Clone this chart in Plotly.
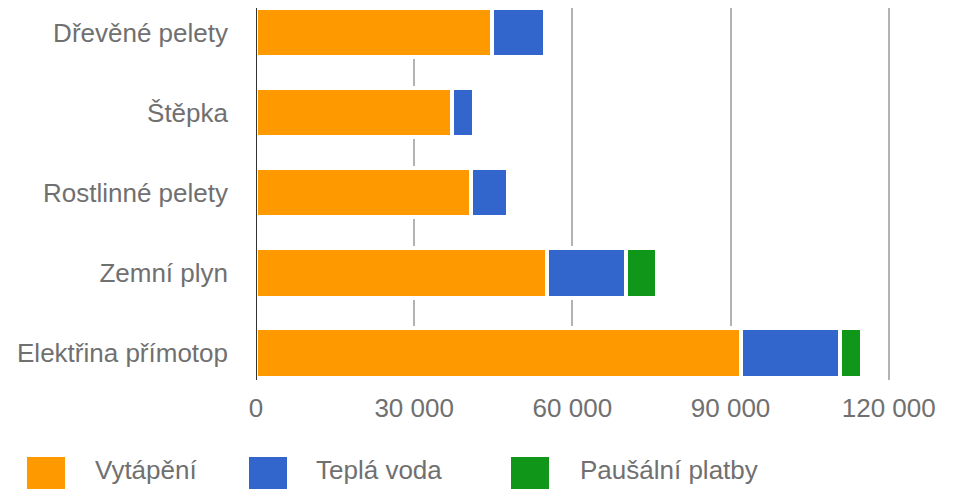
import plotly.graph_objects as go

categories = ["Dřevěné pelety", "Štěpka", "Rostlinné pelety", "Zemní plyn", "Elektřina přímotop"]
heating = [44670, 37080, 40690, 55100, 92000]
hot_water = [10050, 4170, 7010, 15000, 18680]
flat_fees = [0, 0, 0, 5880, 4170]
series_names = ["Vytápění", "Teplá voda", "Paušální platby"]
series_colors = ["#ff9900", "#3366cc", "#109618"]
x_ticks = [0, 30000, 60000, 90000, 120000]
x_tick_labels = ["0", "30 000", "60 000", "90 000", "120 000"]

OFF = 8  # page body margin
W, H = 954 - OFF, 489 - OFF
XMAX = 121000
SCALE = (888.7 - 256) / 120000
# plot area in page pixels
PL, PT, PB = 256, 8, 380
PR = PL + XMAX * SCALE
L, R, T, B = PL - OFF, PR - OFF, PT - OFF, PB - OFF
FONT = "Liberation Sans, Arial, sans-serif"
FS = 26
TXT = "#707070"

fig = go.Figure()
for name, vals, col in zip(series_names, [heating, hot_water, flat_fees], series_colors):
    fig.add_trace(go.Bar(
        y=categories, x=vals, orientation="h", name=name,
        marker=dict(color=col, line=dict(color="white", width=4.5)),
        width=0.618, showlegend=False,
    ))

pitch = 80.1
r0 = -(32.5 - PT) / pitch
r1 = r0 + (PB - PT) / pitch

fig.update_layout(
    width=W, height=H,
    margin=dict(l=L, r=W - R, t=T, b=H - B, pad=0, autoexpand=False),
    barmode="stack", bargap=0,
    plot_bgcolor="white", paper_bgcolor="white",
    font=dict(family=FONT, size=FS, color=TXT),
    xaxis=dict(range=[0, XMAX], tickvals=x_ticks, ticktext=x_tick_labels,
               showgrid=True, gridcolor="#b3b3b3", gridwidth=2, automargin=False,
               zeroline=False, showline=False, ticks="", ticklabelstandoff=10,
               tickfont=dict(size=FS, color=TXT)),
    yaxis=dict(type="category", categoryorder="array", categoryarray=categories,
               range=[r1, r0], showgrid=False, zeroline=False, ticks="", automargin=False,
               ticklabelstandoff=27, tickfont=dict(size=FS, color=TXT)),
    showlegend=False,
)

# dark baseline at x=0
fig.add_shape(type="line", xref="x", yref="paper", x0=0, x1=0, y0=0, y1=1,
              line=dict(color="#333333", width=2), layer="above")

# custom legend (positions given in page pixels)
def px_x(p):
    return (p - PL) / (PR - PL)

def px_y(p):
    return (PB - p) / (PB - PT)

legend_items = [(27, 93), (249, 314), (511, 578)]
for (sq, tx), name, col in zip(legend_items, series_names, series_colors):
    fig.add_shape(type="rect", xref="paper", yref="paper",
                  x0=px_x(sq), x1=px_x(sq + 38), y0=px_y(457), y1=px_y(495),
                  fillcolor=col, line=dict(width=0))
    fig.add_annotation(xref="paper", yref="paper", x=px_x(tx), y=px_y(470),
                       text=name, showarrow=False, xanchor="left", yanchor="middle",
                       font=dict(family=FONT, size=FS, color=TXT))

fig.write_html("out.html")
